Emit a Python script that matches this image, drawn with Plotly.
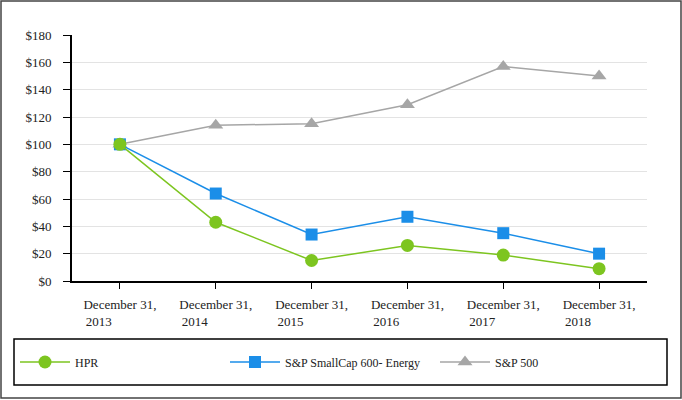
import plotly.graph_objects as go

categories = ["December 31, 2013", "December 31, 2014", "December 31, 2015",
              "December 31, 2016", "December 31, 2017", "December 31, 2018"]
years = ["2013", "2014", "2015", "2016", "2017", "2018"]
hpr = [100, 43, 15, 26, 19, 9]
smallcap_energy = [100, 64, 34, 47, 35, 20]
sp500 = [100, 114, 115, 129, 157, 150]
y_tickvals = [0, 20, 40, 60, 80, 100, 120, 140, 160, 180]
y_ticktext = ["$" + str(v) for v in y_tickvals]

NB = "\u00a0"
tick_text = ["December 31,<br>" + NB + y + NB * 14 for y in years]

FONT = "Liberation Serif"

fig = go.Figure()
fig.add_trace(go.Scatter(
    x=categories, y=sp500, name="S&P 500", mode="lines+markers",
    line=dict(color="#a6a6a6", width=1.5),
    marker=dict(symbol="triangle-up", size=13, color="#a6a6a6"),
    legendrank=3))
fig.add_trace(go.Scatter(
    x=categories, y=smallcap_energy, name="S&P SmallCap 600- Energy", mode="lines+markers",
    line=dict(color="#1b8ee8", width=1.5),
    marker=dict(symbol="square", size=12, color="#1b8ee8"),
    legendrank=2))
fig.add_trace(go.Scatter(
    x=categories, y=hpr, name="HPR", mode="lines+markers",
    line=dict(color="#7dc520", width=1.5),
    marker=dict(symbol="circle", size=13, color="#7dc520"),
    legendrank=1))

L, R, T, B = 72, 35, 35, 119
W, H = 682, 400
pw, ph = W - L - R, H - T - B


def px_x(p):
    return (p - L) / pw


def px_y(p):
    return (H - B - p) / ph


fig.update_layout(
    width=W, height=H,
    margin=dict(l=L, r=R, t=T, b=B),
    paper_bgcolor="white", plot_bgcolor="white",
    font=dict(family=FONT, size=13, color="#222222"),
    showlegend=True,
    legend=dict(orientation="h", x=px_x(15), xanchor="left",
                y=px_y(362), yanchor="middle",
                itemwidth=50,
                entrywidth=145, entrywidthmode="pixels",
                bgcolor="rgba(0,0,0,0)", borderwidth=0,
                font=dict(family=FONT, size=12, color="#222222"),
                traceorder="normal"),
    xaxis=dict(type="category", range=[-0.5, 5.5],
               tickvals=categories, ticktext=tick_text,
               showgrid=False, showline=True, linecolor="black", linewidth=2,
               ticks="outside", ticklen=6, tickcolor="black", tickwidth=1,
               ticklabelstandoff=4,
               tickfont=dict(family=FONT, size=13, color="#222222"),
               zeroline=False),
    yaxis=dict(range=[0, 180], tickvals=y_tickvals, ticktext=y_ticktext,
               showgrid=True, gridcolor="#e3e3e3", gridwidth=1,
               showline=True, linecolor="black", linewidth=2,
               ticks="outside", ticklen=7, tickcolor="black", tickwidth=1,
               ticklabelstandoff=9,
               tickfont=dict(family=FONT, size=13, color="#222222"),
               zeroline=False),
    shapes=[
        dict(type="rect", xref="paper", yref="paper",
             x0=px_x(1), x1=px_x(681), y0=px_y(398), y1=px_y(1),
             line=dict(color="#444444", width=1.5), layer="below"),
        dict(type="rect", xref="paper", yref="paper",
             x0=px_x(14), x1=px_x(667), y0=px_y(385), y1=px_y(339),
             line=dict(color="black", width=1.5), layer="below"),
    ],
)

fig.write_html("out.html", config={"displayModeBar": False},
               post_script="document.body.style.margin='0';document.body.style.overflow='hidden';")
